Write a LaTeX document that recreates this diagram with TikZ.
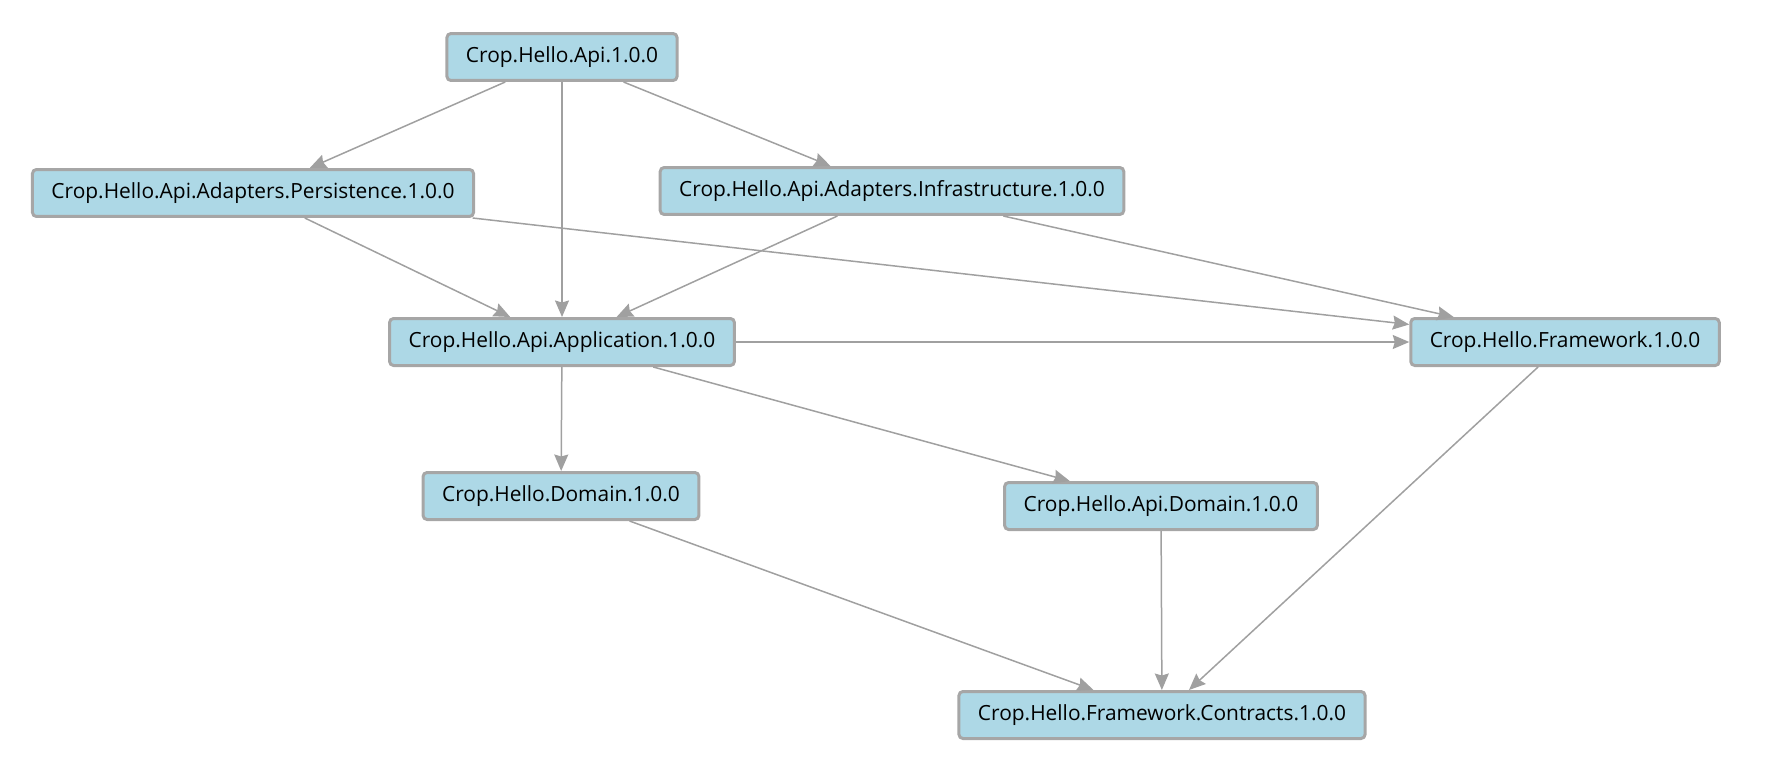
\documentclass[tikz,border=0pt]{standalone}
\usepackage{fontspec}
\setmainfont{Open Sans}
\usetikzlibrary{arrows.meta, positioning}
\definecolor{pkgfill}{HTML}{ADD8E6}
\definecolor{pkgline}{HTML}{A6A6A6}
\definecolor{edgeline}{HTML}{A0A0A0}

\begin{document}
\begin{tikzpicture}[x=0.02cm, y=-0.02cm, every node/.style={align=center},
  >={Stealth[length=0.33cm, width=0.28cm, inset=0.04cm]},
  pkg/.style={draw=pkgline, line width=0.06cm, fill=pkgfill, rounded corners=0.08cm,
    minimum height=0.94cm, inner xsep=0.38cm, font=\fontsize{11.9pt}{14pt}\selectfont},
  dep/.style={->, draw=edgeline, line width=0.03cm}]
\useasboundingbox (0,0) rectangle (1765,771);
\node (api)       [pkg] at (562,57)   {Crop.Hello.Api.1.0.0};
\node (persist)   [pkg] at (253,193)  {Crop.Hello.Api.Adapters.Persistence.1.0.0};
\node (infra)     [pkg] at (892,191)  {Crop.Hello.Api.Adapters.Infrastructure.1.0.0};
\node (app)       [pkg] at (562,342)  {Crop.Hello.Api.Application.1.0.0};
\node (fw)        [pkg] at (1565,342) {Crop.Hello.Framework.1.0.0};
\node (dom)       [pkg] at (561,496)  {Crop.Hello.Domain.1.0.0};
\node (apidom)    [pkg] at (1161,506) {Crop.Hello.Api.Domain.1.0.0};
\node (contracts) [pkg] at (1162,715) {Crop.Hello.Framework.Contracts.1.0.0};
\draw[dep] (api)     -- (persist);
\draw[dep] (api)     -- (app);
\draw[dep] (api)     -- (infra);
\draw[dep] (persist) -- (app);
\draw[dep] (persist) -- (fw);
\draw[dep] (infra)   -- (app);
\draw[dep] (infra)   -- (fw);
\draw[dep] (app)     -- (fw);
\draw[dep] (app)     -- (dom);
\draw[dep] (app)     -- (apidom);
\draw[dep] (dom)     -- (contracts);
\draw[dep] (apidom)  -- (contracts);
\draw[dep] (fw)      -- (contracts);
\end{tikzpicture}
\end{document}
